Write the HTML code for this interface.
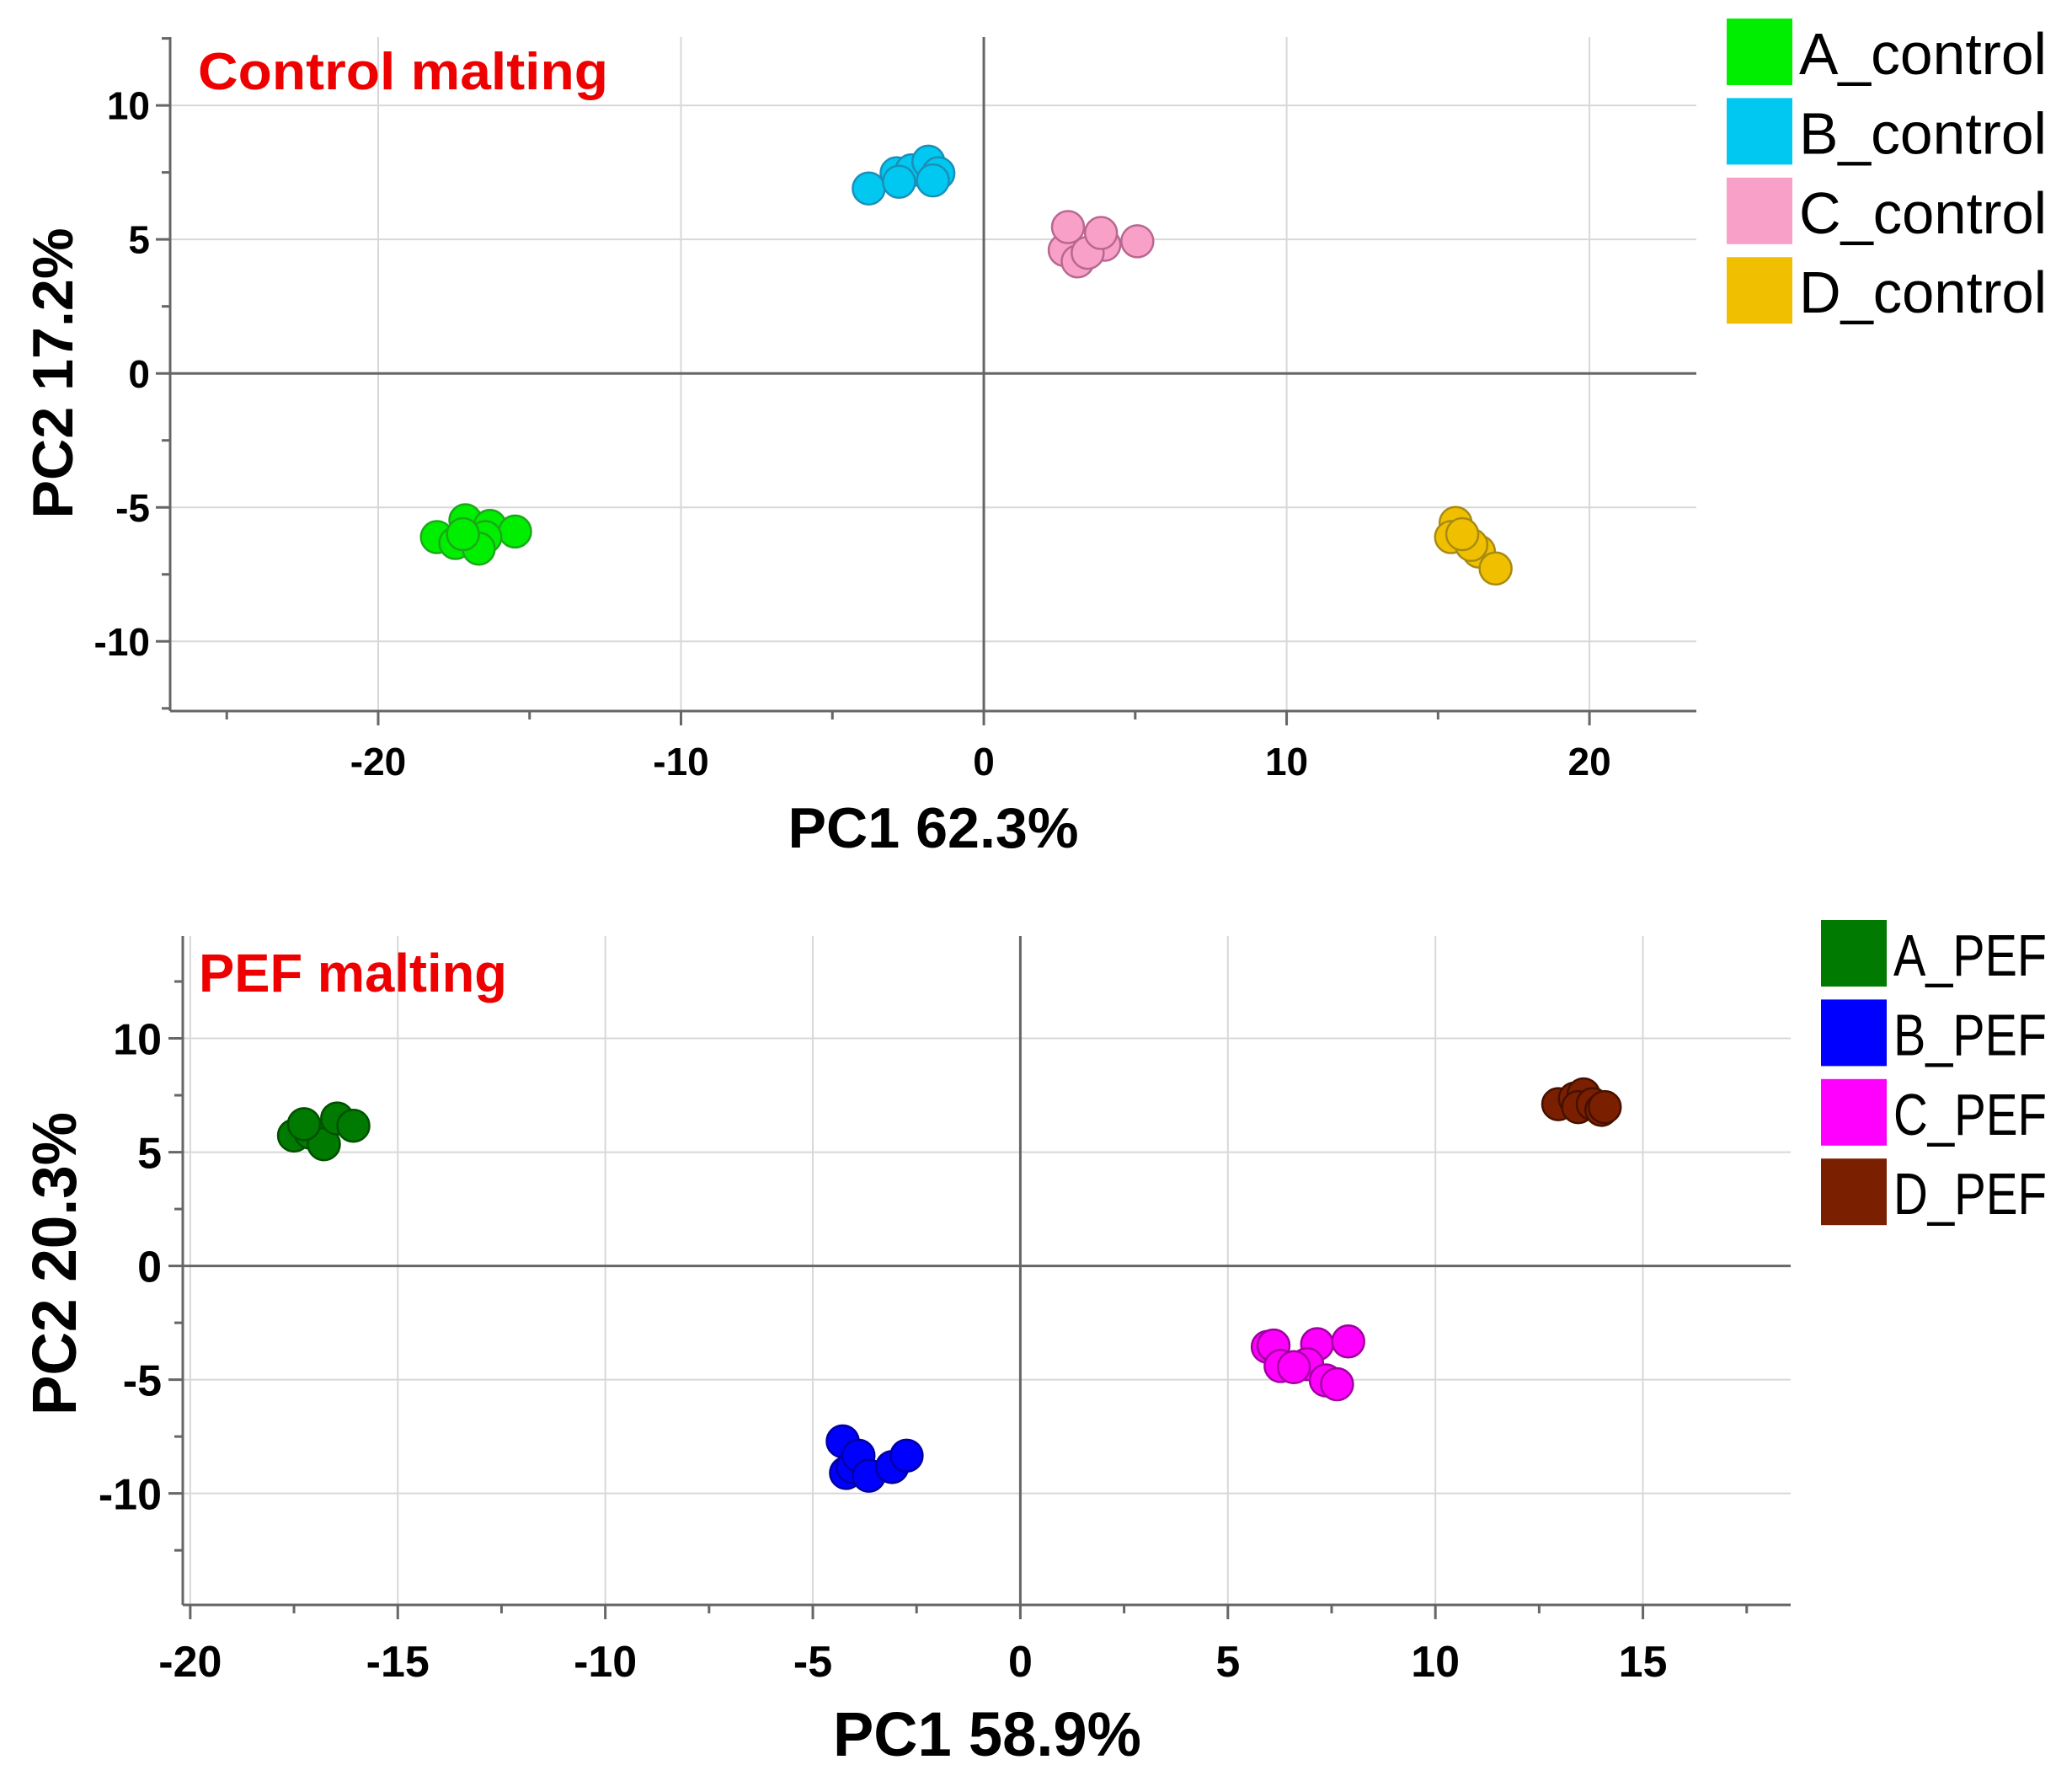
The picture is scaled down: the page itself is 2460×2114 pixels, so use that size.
<!DOCTYPE html>
<html><head><meta charset="utf-8"><style>
html,body{margin:0;padding:0;background:#fff}
svg{display:block}
text{font-family:"Liberation Sans",sans-serif}
</style></head><body>
<svg id="fig" width="2460" height="2114" viewBox="0 0 2460 2114" xmlns="http://www.w3.org/2000/svg"></svg>
<script>
// ---- Top chart data (Control malting) ----
const topGroups = ["A_control","B_control","C_control","D_control"];
const topAx = [-18.06,-17.12,-16.31,-15.48,-16.46,-17.45,-16.68,-17.2];
const topAy = [-6.11,-5.48,-5.69,-5.9,-6.11,-6.33,-6.54,-6.0];
const topBx = [-3.8,-2.88,-2.38,-1.83,-2.8,-1.5,-1.68];
const topBy = [6.9,7.47,7.58,7.9,7.15,7.47,7.2];
const topCx = [2.67,3.1,3.98,3.43,2.78,3.87,5.07];
const topCy = [4.6,4.18,4.8,4.5,5.46,5.24,4.93];
const topDx = [15.58,15.43,16.35,16.1,16.9,15.8];
const topDy = [-5.58,-6.11,-6.65,-6.4,-7.28,-6.0];
const topXTicks = [-20,-10,0,10,20];
const topYTicks = [-10,-5,0,5,10];
// ---- Bottom chart data (PEF malting) ----
const botGroups = ["A_PEF","B_PEF","C_PEF","D_PEF"];
const botAx = [-17.5,-17.1,-16.78,-17.26,-16.46,-16.07];
const botAy = [5.73,5.85,5.35,6.23,6.48,6.16];
const botBx = [-4.28,-4.2,-4.04,-3.9,-3.65,-3.09,-2.74];
const botBy = [-7.71,-9.1,-8.84,-8.34,-9.22,-8.84,-8.34];
const botCx = [5.96,6.1,7.15,7.9,6.27,6.91,6.59,7.36,7.63];
const botCy = [-3.56,-3.5,-3.44,-3.32,-4.4,-4.32,-4.45,-5.03,-5.2];
const botDx = [12.96,13.36,13.57,13.44,13.79,14.0,14.08];
const botDy = [7.11,7.36,7.54,6.98,7.11,6.86,6.98];
const botXTicks = [-20,-15,-10,-5,0,5,10,15];
const botYTicks = [-10,-5,0,5,10];

const NS="http://www.w3.org/2000/svg";
const svg=document.getElementById('fig');
function mk(tag,attrs,parent,txt){const e=document.createElementNS(NS,tag);for(const k in attrs)e.setAttribute(k,attrs[k]);if(txt!==undefined)e.textContent=txt;(parent||svg).appendChild(e);return e;}

function drawChart(cfg){
  const g=mk('g',{});
  
  
  const L=cfg.left,R=cfg.right,T=cfg.top,B=cfg.bottom;
  const sx=v=>L+(v-cfg.xmin)/(cfg.xmax-cfg.xmin)*(R-L);
  const sy=v=>B-(v-cfg.ymin)/(cfg.ymax-cfg.ymin)*(B-T);
  cfg.xticks.forEach(v=>{ if(v!==0){const l=mk('line',{x1:sx(v),x2:sx(v),y1:T,y2:B,stroke:'#d8d8d8','stroke-width':2},g);
    }});
  cfg.yticks.forEach(v=>{ if(v!==0){const l=mk('line',{x1:L,x2:R,y1:sy(v),y2:sy(v),stroke:'#d8d8d8','stroke-width':2},g);
    }});
  const zx=mk('line',{x1:sx(0),x2:sx(0),y1:T,y2:B,stroke:'#666','stroke-width':3},g);
  
  const zy=mk('line',{x1:L,x2:R,y1:sy(0),y2:sy(0),stroke:'#666','stroke-width':3},g);
  
  const ax=mk('line',{x1:L,x2:R,y1:B,y2:B,stroke:'#666','stroke-width':3},g);
  
  const ay=mk('line',{x1:L,x2:L,y1:T,y2:B,stroke:'#666','stroke-width':3},g);
  
  for(let v=Math.ceil(cfg.xmin/cfg.xminor)*cfg.xminor; v<=cfg.xmax; v+=cfg.xminor){
    const major=cfg.xticks.some(t=>Math.abs(t-v)<1e-6);
    mk('line',{x1:sx(v),x2:sx(v),y1:B,y2:B+(major?17:10),stroke:'#666','stroke-width':3},g);
  }
  for(let v=Math.ceil(cfg.ymin/cfg.yminor)*cfg.yminor; v<=cfg.ymax; v+=cfg.yminor){
    const major=cfg.yticks.some(t=>Math.abs(t-v)<1e-6);
    mk('line',{x1:L-(major?17:10),x2:L,y1:sy(v),y2:sy(v),stroke:'#666','stroke-width':3},g);
  }
  cfg.xticks.forEach(v=>{const t=mk('text',{x:sx(v),y:cfg.xLabelY,'text-anchor':'middle','font-size':cfg.tickFont,'font-weight':'bold',fill:'#000'},g,String(v));
    });
  cfg.yticks.forEach(v=>{const t=mk('text',{x:cfg.yLabelX,y:sy(v)+cfg.tickFont*0.36,'text-anchor':'end','font-size':cfg.tickFont,'font-weight':'bold',fill:'#000'},g,String(v));
    });
  const xt=mk('text',{x:cfg.xTitleX,y:cfg.xTitleY,'text-anchor':'middle','font-size':cfg.titleFont,'font-weight':'bold',fill:'#000',textLength:cfg.titleLen,lengthAdjust:'spacingAndGlyphs'},g,cfg.xTitle);
  
  const yt=mk('text',{x:0,y:0,'text-anchor':'middle','font-size':cfg.titleFont,'font-weight':'bold',fill:'#000',textLength:cfg.yTitleLen,lengthAdjust:'spacingAndGlyphs',transform:`translate(${cfg.yTitleX},${cfg.yTitleY}) rotate(-90)`},g,cfg.yTitle);
  
  const ct=mk('text',{x:cfg.capX,y:cfg.capY,'font-size':cfg.capFont,'font-weight':'bold',fill:'#ee0000',textLength:cfg.capLen,lengthAdjust:'spacingAndGlyphs'},g,cfg.caption);
  
  cfg.series.forEach((s,i)=>{
    const sg=mk('g',{},g);
    
    
    s.xs.forEach((xv,j)=>{
      const c=mk('circle',{cx:sx(xv),cy:sy(s.ys[j]),r:19,fill:s.fill,stroke:s.stroke,'stroke-width':2.5},sg);
      
      
    });
    const lg=mk('g',{},g);
    
    
    const ly=cfg.legY+i*94.4;
    mk('rect',{x:cfg.legX,y:ly,width:78,height:79,fill:s.fill},lg);
    mk('text',{x:cfg.legX+86,y:ly+66,'font-size':70,fill:'#000',textLength:cfg.legLen,lengthAdjust:'spacingAndGlyphs'},lg,s.name);
  });
}

drawChart({name:'control-malting-chart',left:202,right:2014,top:44,bottom:844,
  xmin:-26.87,xmax:23.53,ymin:-12.6,ymax:12.55,xminor:5,yminor:2.5,
  xticks:topXTicks,yticks:topYTicks,tickFont:46,titleFont:68,xLabelY:920,yLabelX:178,
  xTitle:'PC1 62.3%',xTitleX:1108,xTitleY:1006,titleLen:345,yTitle:'PC2 17.2%',yTitleX:86,yTitleY:443,yTitleLen:345,
  caption:'Control malting',capX:235,capY:106,capFont:62,capLen:487,legX:2050,legY:22,legLen:294,
  series:[
   {name:topGroups[0],xs:topAx,ys:topAy,fill:'#00ee00',stroke:'#1aa81a'},
   {name:topGroups[1],xs:topBx,ys:topBy,fill:'#00c8f0',stroke:'#1a8fb8'},
   {name:topGroups[2],xs:topCx,ys:topCy,fill:'#f8a0c8',stroke:'#b86890'},
   {name:topGroups[3],xs:topDx,ys:topDy,fill:'#f0c000',stroke:'#a88a10'}]});

drawChart({name:'pef-malting-chart',left:217,right:2126,top:1111,bottom:1905,
  xmin:-20.18,xmax:18.56,ymin:-14.9,ymax:14.5,xminor:2.5,yminor:2.5,
  xticks:botXTicks,yticks:botYTicks,tickFont:52,titleFont:74,xLabelY:1990,yLabelX:192,
  xTitle:'PC1 58.9%',xTitleX:1172,xTitleY:2084,titleLen:366,yTitle:'PC2 20.3%',yTitleX:90,yTitleY:1500,yTitleLen:360,
  caption:'PEF malting',capX:236,capY:1177,capFont:64,capLen:366,legX:2162,legY:1092,legLen:182,
  series:[
   {name:botGroups[0],xs:botAx,ys:botAy,fill:'#007a00',stroke:'#005000'},
   {name:botGroups[1],xs:botBx,ys:botBy,fill:'#0000ff',stroke:'#0000a0'},
   {name:botGroups[2],xs:botCx,ys:botCy,fill:'#ff00ff',stroke:'#a000a0'},
   {name:botGroups[3],xs:botDx,ys:botDy,fill:'#7a2000',stroke:'#451000'}]});
</script>
</body></html>
